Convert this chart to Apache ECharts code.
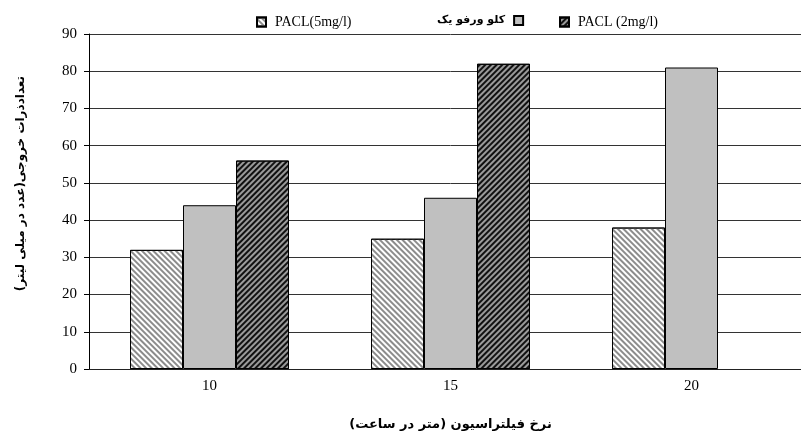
<!DOCTYPE html>
<html>
<head>
<meta charset="utf-8">
<script src="https://cdn.jsdelivr.net/npm/echarts@6/dist/echarts.min.js"></script>
<style>
  html, body { margin: 0; padding: 0; background: #fff; overflow: hidden; }
  /* the plot area runs a little past the right edge of the window */
  #chart { width: 815px; height: 437px; }
</style>
</head>
<body>
<div id="chart"></div>
<script>
// Filtration rate categories (m/h)
const categories = ['10', '15', '20'];

// Series names
const nameP5 = 'PACL(5mg/l)';
const nameFeCl = 'کلو ورفو یک';
const nameP2 = 'PACL (2mg/l)';

// Outlet particle counts (count per ml)
const pacl5Values = [32, 35, 38];
const ferricValues = [44, 46, 81];
const pacl2Values = [56, 82, null];

// Value axis ticks
const yMin = 0;
const yMax = 90;
const yStep = 10;

const serif = '"Liberation Serif", "Times New Roman", "DejaVu Sans", serif';
const persian = '"DejaVu Sans", "Liberation Serif", serif';

const chart = echarts.init(document.getElementById('chart'), null, { renderer: 'canvas' });

const legendBase = {
  top: 10,
  icon: 'rect',
  itemWidth: 9,
  itemHeight: 9,
  textStyle: { fontFamily: serif, fontSize: 14, color: '#000' },
  selectedMode: false
};

chart.setOption({
  animation: false,
  backgroundColor: '#fff',
  legend: [
    Object.assign({}, legendBase, { data: [nameP5], left: 251, textStyle: Object.assign({}, legendBase.textStyle, { padding: [0, 0, 0, 4] }) }),
    Object.assign({}, legendBase, { data: [nameFeCl], left: 432, align: 'right', textStyle: Object.assign({}, legendBase.textStyle, { fontFamily: persian, fontSize: 11, fontWeight: 'bold', padding: [0, 4, 0, 0] }) }),
    Object.assign({}, legendBase, { data: [nameP2], left: 554, textStyle: Object.assign({}, legendBase.textStyle, { padding: [0, 0, 0, 4] }) })
  ],
  grid: { left: 89, top: 34, bottom: 68, width: 723, containLabel: false },
  xAxis: {
    type: 'category',
    data: categories,
    name: 'نرخ فیلتراسیون (متر در ساعت)',
    nameLocation: 'middle',
    nameGap: 49,
    nameTextStyle: { fontFamily: persian, fontSize: 13, fontWeight: 'bold', color: '#000' },
    axisLine: { show: true, lineStyle: { color: '#222', width: 1 } },
    axisTick: { show: false },
    axisLabel: { fontFamily: serif, fontSize: 15, color: '#000', margin: 10 },
    splitLine: { show: false }
  },
  yAxis: {
    type: 'value',
    min: yMin,
    max: yMax,
    interval: yStep,
    name: 'تعدادذرات خروجی(عدد در میلی لیتر)',
    nameLocation: 'middle',
    nameRotate: 90,
    nameGap: 62,
    nameTextStyle: { fontFamily: persian, fontSize: 12, fontWeight: 'bold', color: '#000', padding: [0, 0, 0, 36] },
    axisLine: { show: true, lineStyle: { color: '#000', width: 1 } },
    axisTick: { show: true, length: 5, inside: false, lineStyle: { color: '#000' } },
    axisLabel: { fontFamily: serif, fontSize: 15, color: '#000', margin: 12 },
    splitLine: { show: true, lineStyle: { color: '#333', width: 1 } }
  },
  series: [
    {
      name: nameP5,
      type: 'bar',
      data: pacl5Values,
      barWidth: 53,
      barGap: '0%',
      itemStyle: {
        color: '#ffffff',
        borderColor: '#000',
        borderWidth: 1,
        decal: {
          symbol: 'rect',
          symbolSize: 1,
          color: '#8c8c8c',
          dashArrayX: [1, 0],
          dashArrayY: [2, 2],
          rotation: Math.PI / 4
        }
      }
    },
    {
      name: nameFeCl,
      type: 'bar',
      data: ferricValues,
      barWidth: 53,
      barGap: '0%',
      itemStyle: { color: '#c0c0c0', borderColor: '#000', borderWidth: 1 }
    },
    {
      name: nameP2,
      type: 'bar',
      data: pacl2Values,
      barWidth: 53,
      barGap: '0%',
      itemStyle: {
        color: '#9a9a9a',
        borderColor: '#000',
        borderWidth: 1,
        decal: {
          symbol: 'rect',
          symbolSize: 1,
          color: '#111111',
          dashArrayX: [1, 0],
          dashArrayY: [2, 2],
          rotation: -Math.PI / 4
        }
      }
    }
  ]
});
</script>
</body>
</html>
